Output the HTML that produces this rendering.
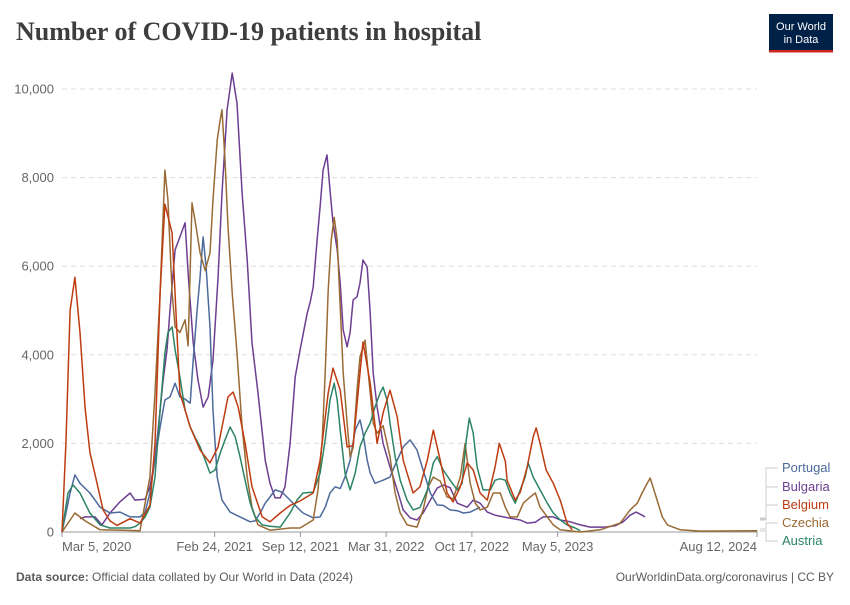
<!DOCTYPE html>
<html><head><meta charset="utf-8">
<style>
body{margin:0;background:#fff;}
svg text{font-family:"Liberation Sans",sans-serif;}
</style></head>
<body>
<svg id="chart" width="850" height="600" viewBox="0 0 850 600">
<text x="16" y="40" font-size="26" font-weight="bold" fill="#3d3d3d" style="font-family:'Liberation Serif',serif">Number of COVID-19 patients in hospital</text>
<g>
<rect x="769" y="14" width="64" height="36" fill="#002147"/>
<rect x="769" y="50" width="64" height="2.5" fill="#ce261e"/>
<text x="801" y="30" font-size="11" fill="#fff" text-anchor="middle">Our World</text>
<text x="801" y="43" font-size="11" fill="#fff" text-anchor="middle">in Data</text>
</g>
<g id="grid"></g><g id="xaxis"></g><g id="series"></g><g id="legend"></g>
<text x="16" y="581" font-size="12" fill="#5b5b5b"><tspan font-weight="bold">Data source:</tspan> Official data collated by Our World in Data (2024)</text>
<text x="834" y="581" font-size="12" fill="#5b5b5b" text-anchor="end">OurWorldinData.org/coronavirus | CC BY</text>
</svg>
<script>
// weeks since Mar 5, 2020 ; values = patients in hospital
const yTicks=[0,2000,4000,6000,8000,10000];
const xTickWeeks=[0,50.86,79.43,108,136.57,165.14,231.57];
const xTickLabels=["Mar 5, 2020","Feb 24, 2021","Sep 12, 2021","Mar 31, 2022","Oct 17, 2022","May 5, 2023","Aug 12, 2024"];
const seriesNames=["Portugal","Bulgaria","Belgium","Czechia","Austria"];
const seriesColors=["#4c6a9c","#6d3e91","#be3c10","#9a6a35","#2c8465"];
const portugalWeeks=[0,2.7,4.3,6,9.3,12.7,16,19.3,22.7,26,27.7,29.3,31,32.7,34.3,36,37.7,39.3,41,42.7,43.7,45,46,47,48,49.3,50.3,51.7,53.3,56,59.3,62.7,64.3,66,67.7,69.3,71,73.3,76,78.3,80.3,83.7,86,87.7,89.3,91,92.7,94.3,96,97.7,99.3,100.3,101.7,102.7,104.3,107,109.3,111.7,113.7,116,118.3,120.3,122.7,125,127,129.3,131.7,133.7,136,139.3];
const portugalValues=[0,880,1290,1100,880,560,430,450,340,340,450,880,1620,2370,2980,3050,3360,3050,3000,2910,3880,5010,5760,6660,5980,4630,2750,1240,720,450,340,230,250,430,650,790,950,900,720,560,430,320,340,560,880,1020,980,1240,1620,2300,2530,2230,1620,1330,1100,1170,1240,1620,1920,2080,1850,1400,880,610,600,500,480,430,450,560];
const bulgariaWeeks=[6,7.7,11,13.3,16,19.3,22.7,24.3,27.7,29.3,31,32.7,33.7,35,36,37.7,39.3,41,42,43.7,45.3,47,48.7,50.3,52,53.3,55,56.7,58.3,60,61.7,63.3,65.3,67.7,69.3,71,72.7,74.3,76,77.7,79.3,81.7,82.7,83.7,85,86,87,88.3,89.3,90.3,91.7,92.7,93.7,95,96,97,98.3,99.3,100.3,101.7,102.7,103.7,105,107,109.3,111.7,113.7,116,118.3,120.3,122.7,125,127,129.3,131.7,135,137,139.3,141.7,144.3,147,152.7,155,157.7,160.3,163.7,166,169.3,172.7,176,181,184.3,187,189.3,191.3,193.3,194.3];
const bulgariaValues=[300,340,340,160,430,680,880,720,740,1020,1620,2750,3430,4110,5010,6370,6660,6980,5850,4270,3430,2820,3050,3880,5760,7650,9530,10360,9680,7650,6140,4270,3140,1620,1100,770,770,1020,2000,3500,4100,4940,5190,5530,6590,7340,8170,8510,7720,6980,6370,5620,4560,4180,4500,5240,5310,5620,6140,5980,4940,3590,2820,2000,1470,950,500,320,270,430,720,990,1060,1000,650,560,720,650,450,380,340,270,200,220,340,340,270,230,160,110,110,140,230,380,450,380,340];
const belgiumWeeks=[0,1.3,2.7,4.3,6,7.7,9.3,11,13.7,16,18.3,22.7,26,29.3,31,32.7,34.3,36.7,39.3,42.7,46,49.3,52,55.3,57,58.7,61,63.3,66.7,69.3,72.7,76,79.3,83.7,86,88.7,90.3,92.7,95,97,99.3,100.3,102.7,105,107,109.3,111.7,113.7,117,119.3,121.7,123.7,126,128.3,130.3,132.7,135,137,139.3,141.7,144.3,145.7,147.7,148.3,151,152.7,155,157,158,159.3,161.3,163.7,166,168.3,170];
const belgiumValues=[0,2000,5000,5750,4500,2800,1800,1300,500,250,150,300,200,600,2000,5400,7400,6750,3140,2370,1850,1560,1920,3050,3160,2820,2000,1020,340,230,430,600,700,880,1620,3140,3700,3200,1920,1950,3590,4290,3360,2000,2690,3200,2600,1620,880,1020,1620,2300,1620,880,680,1020,1560,1400,880,720,1470,2000,1600,1170,720,900,1470,2150,2350,2000,1400,1100,720,200,50];
const czechiaWeeks=[0,4.3,7.7,12.7,26,29.3,31,32.7,34.3,35.3,36.7,37.7,39.3,41,42,43.3,44.3,46,47.7,49.3,50.3,51.7,52.7,53.3,54.3,55.3,56.7,58.3,60,61.7,63.3,65.3,69.3,76,79.3,83.7,85.3,86.7,87.7,88.7,89.7,90.7,91.7,92.7,93.7,95,96,97,98.3,99.3,101,102.7,103.7,105,107,109.3,111,112.7,115,118.3,120.3,122,123.7,126,128.3,130.3,132.7,134.3,136,137.7,139.3,141.7,143.7,146,147.7,149.3,151.7,153.7,156,157.7,159.3,161.7,163.7,166,172.7,179.3,186,189.3,191.7,193.3,194.7,196,197,198.3,200,201.7,206,212.7,231.7];
const czechiaValues=[0,430,250,50,30,1240,3140,5400,8170,7500,5400,4630,4500,4790,4200,7430,7040,6300,5900,6300,7500,8850,9300,9530,8400,6900,5400,4040,2370,1240,560,160,40,90,90,270,950,2080,3590,5460,6590,7100,6590,5080,3590,2460,1700,1900,3200,3950,4330,3140,2460,2230,2400,1700,880,430,160,110,500,1020,1240,1150,790,750,1240,2000,1100,650,500,560,880,880,560,340,340,650,790,880,560,340,160,50,0,50,200,500,650,880,1060,1220,1000,720,340,160,50,20,30];
const austriaWeeks=[0,2,3.7,6,9.3,12.7,16,22.7,24.3,26,27.7,29.3,31,32.7,34.3,35.3,36.7,37.7,39.3,41,42.7,44.3,46,47.7,49.3,51,52.7,54.3,56,57.7,59.3,61,62.7,64.3,66.7,69.3,72.7,76,78.3,80.3,83.7,86,87.7,89.3,90.7,91.7,92.7,94.3,96,97.7,99.3,101,102.7,104.3,106,107,108.3,109.3,111,112.7,115,117,119.3,121.7,123.7,125,127,129.3,131.7,133.3,134.7,135.7,137,138.3,140.3,142.7,144.3,146,147.7,149.3,151,152.7,154.3,155.3,157,159.3,161.7,163.7,166,168.3,171,172.7];
const austriaValues=[0,880,1060,880,430,160,90,90,120,200,340,560,1240,2750,4040,4500,4630,4110,3500,2750,2370,2140,1920,1620,1330,1400,1780,2080,2370,2150,1700,1170,650,340,160,130,110,430,720,880,900,1330,2080,2980,3360,2980,2300,1330,950,1330,1920,2230,2460,2820,3140,3270,2980,2460,1700,1170,720,500,550,950,1560,1700,1400,1170,950,1100,2080,2570,2230,1470,950,950,1170,1200,1170,880,650,950,1240,1560,1240,950,650,430,270,160,90,30];

const NS="http://www.w3.org/2000/svg";
const X0=62,X1=757,Y0=532,Y1=89,WMAX=231.57,VMAX=10000;
function xs(w){return X0+(w/WMAX)*(X1-X0);}
function ys(v){return Y0-(v/VMAX)*(Y0-Y1);}
function mk(tag,attrs,parent){const e=document.createElementNS(NS,tag);for(const k in attrs)e.setAttribute(k,attrs[k]);parent.appendChild(e);return e;}
const grid=document.getElementById('grid');
yTicks.forEach(v=>{
  if(v>0){const l=mk('line',{x1:X0,x2:X1,y1:ys(v),y2:ys(v),stroke:'#dddddd','stroke-dasharray':'5,4'},grid);
  
  }
  const t=mk('text',{x:54,y:ys(v)+4.5,'font-size':13,fill:'#666','text-anchor':'end'},grid);
  t.textContent=v.toLocaleString('en-US');
  
  
});
const xa=document.getElementById('xaxis');
const ax=mk('line',{x1:X0,x2:X1,y1:Y0,y2:Y0,stroke:'#999'},xa);


xTickWeeks.forEach((w,i)=>{
  const tk=mk('line',{x1:xs(w),x2:xs(w),y1:Y0,y2:Y0+5,stroke:'#999'},xa);
  
  
  const anchor=i===0?'start':(i===xTickWeeks.length-1?'end':'middle');
  const t=mk('text',{x:xs(w),y:551,'font-size':13,fill:'#666','text-anchor':anchor},xa);
  t.textContent=xTickLabels[i];
  
  
});
const sg=document.getElementById('series');
const allW=[portugalWeeks,bulgariaWeeks,belgiumWeeks,czechiaWeeks,austriaWeeks];
const allV=[portugalValues,bulgariaValues,belgiumValues,czechiaValues,austriaValues];
const order=[1,0,3,4,2];
order.forEach(i=>{
  const d=allW[i].map((w,j)=>(j?'L':'M')+xs(w).toFixed(1)+','+ys(allV[i][j]).toFixed(1)).join('');
  const p=mk('path',{d:d,fill:'none',stroke:seriesColors[i],'stroke-width':1.5,'stroke-linejoin':'round'},sg);
  
  
});
const lg=document.getElementById('legend');
const labelY=[472,491,509,527,545];
const endY=[518,519,520,529,531];
labelY.forEach((ly,i)=>{
  const pl=mk('polyline',{points:`760,${endY[i]} 766,${endY[i]} 766,${ly-4} 778,${ly-4}`,fill:'none',stroke:'#ccc'},lg);
  
  
  const t=mk('text',{x:782,y:ly,'font-size':13,fill:seriesColors[i]},lg);
  t.textContent=seriesNames[i];
  
  
});
</script>
</body></html>
